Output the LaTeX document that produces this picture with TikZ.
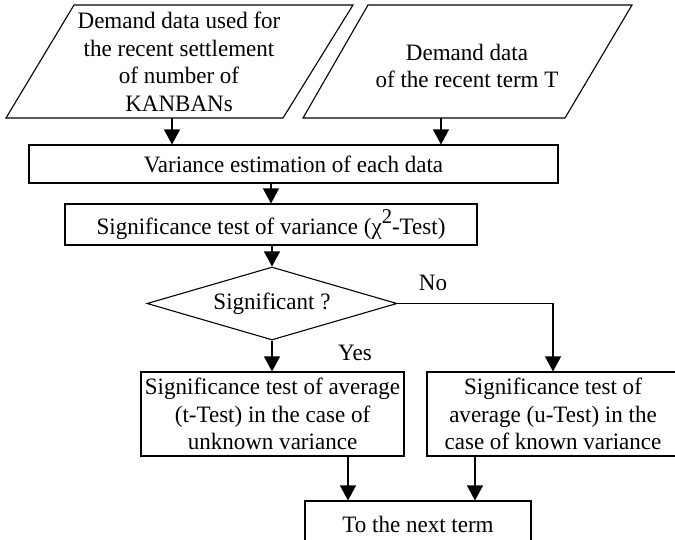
\documentclass[tikz,border=0pt]{standalone}
\usepackage{fontspec}
\setmainfont{Liberation Serif}[FakeStretch=0.98]
\usetikzlibrary{arrows.meta,shapes.geometric}
\begin{document}
\begin{tikzpicture}[x=1pt,y=-1pt,
  every node/.style={font=\fontsize{23.5}{27.5}\selectfont},
  line width=1.1pt,
  flowbox/.style={draw, rectangle, align=center, inner sep=0pt},
  txt/.style={align=center, inner sep=0pt},
  arr/.style={-{Triangle[width=16pt,length=15pt]}},
  ]
\useasboundingbox (0,0) rectangle (675,539);

% input data (parallelograms)
\draw (6,118) -- (74,5) -- (353,5) -- (283,118) -- cycle;
\draw (303,118) -- (368,5) -- (632,5) -- (565,118) -- cycle;
\node[txt] (p1) at (179,62) {Demand data used for\\the recent settlement\\of number of\\KANBANs};
\node[txt] (p2) at (467,66) {Demand data\\of the recent term T};
\coordinate (p1out) at (172,118);
\coordinate (p2out) at (441,118);

% processing steps
\node[flowbox, minimum width=529pt, minimum height=38pt] (var) at (293.5,164) {Variance estimation of each data};
\node[flowbox, minimum width=412pt, minimum height=41pt] (chi) at (271,224.5) {Significance test of variance (χ\raisebox{0.45em}{\fontsize{21}{21}\selectfont 2}-Test)};
\node[diamond, draw, aspect=3.4, inner sep=0pt, minimum width=250pt, minimum height=73pt] (sig) at (272,303.5) {Significant ?};
\node[flowbox, minimum width=263pt, minimum height=84pt] (tl) at (272.5,414) {Significance test of average\\(t-Test) in the case of\\unknown variance};
\node[flowbox, minimum width=252pt, minimum height=84pt] (tr) at (553,414) {Significance test of\\average (u-Test) in the\\case of known variance};
\node[flowbox, minimum width=226pt, minimum height=46pt] (nx) at (418,524) {To the next term};

\node[txt] (no) at (433,283) {No};
\node[txt] (yes) at (355,353) {Yes};

% connectors
\draw[arr] (p1out) -- (p1out |- var.north);
\draw[arr] (p2out) -- (p2out |- var.north);
\draw[arr] (var.south -| chi.north) -- (chi.north);
\draw[arr] (chi.south -| sig.north) -- (sig.north);
\draw[arr] (sig.south) -- (sig.south |- tl.north);
\draw[arr] (sig.east) -| (tr.north);
\coordinate (m1) at (348,0);
\coordinate (m2) at (475,0);
\draw[arr] (tl.south -| m1) -- (nx.north -| m1);
\draw[arr] (tr.south -| m2) -- (nx.north -| m2);
\end{tikzpicture}
\end{document}
